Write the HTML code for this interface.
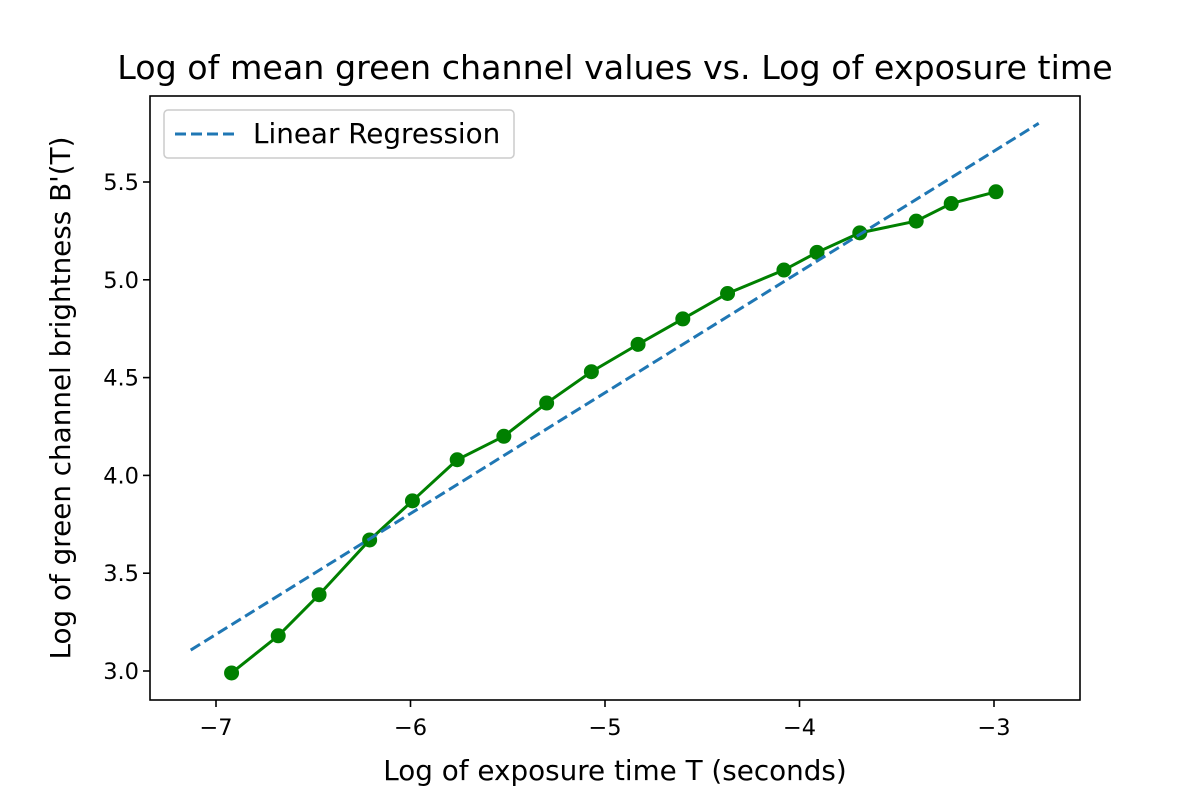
<!DOCTYPE html>
<html><head><meta charset="utf-8"><style>
body{margin:0;background:#fff}
svg text{font-family:"DejaVu Sans","Liberation Sans",sans-serif;fill:#000}
</style></head><body>
<svg id="chart" width="1200" height="800" xmlns="http://www.w3.org/2000/svg">
<rect width="1200" height="800" fill="#fff"/>
<text x="615" y="79" font-size="33.3" text-anchor="middle">Log of mean green channel values vs. Log of exposure time</text>
<g id="plot"></g>
<rect x="150" y="96" width="930" height="604" fill="none" stroke="#000" stroke-width="1.6"/>
<text x="615" y="780" font-size="27.8" text-anchor="middle">Log of exposure time T (seconds)</text>
<text transform="translate(70,398) rotate(-90)" font-size="27.8" text-anchor="middle">Log of green channel brightness B'(T)</text>
<g>
<rect x="164" y="110" width="350" height="48" rx="4" fill="#fff" stroke="#ccc" stroke-width="1.5"/>
<line x1="175" y1="134" x2="235" y2="134" stroke="#1f77b4" stroke-width="3" stroke-dasharray="11,5"/>
<text x="253" y="143" font-size="27.8">Linear Regression</text>
</g>
</svg>
<script>
const xs=[-6.92,-6.68,-6.47,-6.21,-5.99,-5.76,-5.52,-5.30,-5.07,-4.83,-4.60,-4.37,-4.08,-3.91,-3.69,-3.40,-3.22,-2.99];
const ys=[2.99,3.18,3.39,3.67,3.87,4.08,4.20,4.37,4.53,4.67,4.80,4.93,5.05,5.14,5.24,5.30,5.39,5.45];
const regX=[-7.13,-2.77];
const regY=[3.107,5.80];
const xTicks=[-7,-6,-5,-4,-3];
const yTicks=[3.0,3.5,4.0,4.5,5.0,5.5];
const X=v=>216+(v+7)*194.5;
const Y=v=>671-(v-3)*195.6;
const NS="http://www.w3.org/2000/svg";
const g=document.getElementById('plot');
function mk(t,a){const e=document.createElementNS(NS,t);for(const k in a)e.setAttribute(k,a[k]);g.appendChild(e);return e;}
xTicks.forEach(t=>{
 const l=mk('line',{x1:X(t),x2:X(t),y1:700,y2:707,stroke:'#000','stroke-width':1.6});
 
 
 const tx=mk('text',{x:X(t),y:735,'font-size':22.5,'text-anchor':'middle'});
 tx.textContent='\u2212'+Math.abs(t);
 
 
});
yTicks.forEach(t=>{
 const l=mk('line',{x1:143,x2:150,y1:Y(t),y2:Y(t),stroke:'#000','stroke-width':1.6});
 
 
 const tx=mk('text',{x:139,y:Y(t)+8,'font-size':22.5,'text-anchor':'end'});
 tx.textContent=t.toFixed(1);
 
 
});
const data=mk('polyline',{points:xs.map((x,i)=>X(x)+','+Y(ys[i])).join(' '),fill:'none',stroke:'#008000','stroke-width':3});


xs.forEach((x,i)=>{
 const c=mk('circle',{cx:X(x),cy:Y(ys[i]),r:7.5,fill:'#008000'});
 
 
});
const reg=mk('line',{x1:X(regX[0]),y1:Y(regY[0]),x2:X(regX[1]),y2:Y(regY[1]),stroke:'#1f77b4','stroke-width':3,'stroke-dasharray':'11,5'});


</script>
</body></html>
